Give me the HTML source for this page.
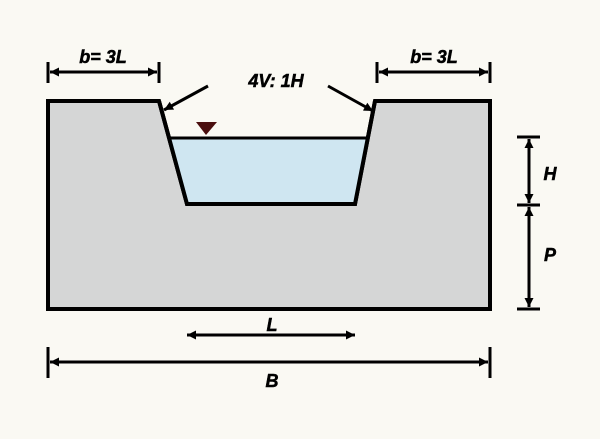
<!DOCTYPE html><html><head><style>body{margin:0;background:#faf9f3}</style></head><body>
<svg width="600" height="434" xmlns="http://www.w3.org/2000/svg">
<defs><marker id="a" viewBox="0 0 10 10" refX="10" refY="5" markerWidth="13" markerHeight="9" markerUnits="userSpaceOnUse" orient="auto-start-reverse"><path d="M0,0L10,5L0,10z" fill="#000"/></marker></defs>
<rect width="600" height="434" fill="#faf9f3"/>
<polygon points="48,101 159,101 187,204 355,204 375,101 490,101 490,309 48,309" fill="#d5d6d6" stroke="#000" stroke-width="4" stroke-linejoin="miter"/>
<polygon points="170,138 368,138 355,204 187,204" fill="#cfe6f1"/>
<polyline points="159,101 187,204 355,204 375,101" fill="none" stroke="#000" stroke-width="4"/>
<line x1="170" y1="138" x2="368" y2="138" stroke="#000" stroke-width="3"/>
<polygon points="196,122 217,122 206,135" fill="#4a0e0e"/>
<g stroke="#000" stroke-width="3" fill="none">
<line x1="48" y1="62" x2="48" y2="83"/><line x1="159" y1="62" x2="159" y2="83"/>
<line x1="50" y1="72" x2="157" y2="72" marker-start="url(#a)" marker-end="url(#a)"/>
<line x1="377" y1="62" x2="377" y2="83"/><line x1="490" y1="62" x2="490" y2="83"/>
<line x1="379" y1="72" x2="488" y2="72" marker-start="url(#a)" marker-end="url(#a)"/>
<line x1="208" y1="86" x2="164" y2="110" marker-end="url(#a)"/>
<line x1="328" y1="86" x2="373" y2="111" marker-end="url(#a)"/>
<line x1="517" y1="137" x2="540" y2="137"/><line x1="517" y1="205" x2="540" y2="205"/><line x1="517" y1="309" x2="540" y2="309"/>
<line x1="529" y1="139" x2="529" y2="203" marker-start="url(#a)" marker-end="url(#a)"/>
<line x1="529" y1="207" x2="529" y2="307" marker-start="url(#a)" marker-end="url(#a)"/>
<line x1="187" y1="335" x2="355" y2="335" marker-start="url(#a)" marker-end="url(#a)"/>
<line x1="48" y1="347" x2="48" y2="378"/><line x1="490" y1="347" x2="490" y2="378"/>
<line x1="50" y1="362" x2="488" y2="362" marker-start="url(#a)" marker-end="url(#a)"/>
</g>
<g font-family="Liberation Sans, sans-serif" font-weight="bold" font-style="italic" font-size="18" text-anchor="middle" fill="#000" stroke="#000" stroke-width="0.5">
<text x="103" y="63">b= 3L</text><text x="434" y="63">b= 3L</text>
<text x="276" y="87">4V: 1H</text>
<text x="550" y="180">H</text><text x="550" y="261">P</text>
<text x="272" y="331">L</text><text x="272" y="387">B</text>
</g>
</svg></body></html>
